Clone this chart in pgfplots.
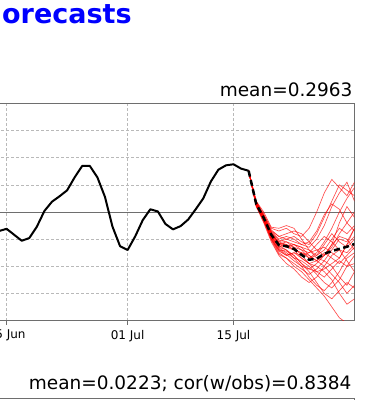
\documentclass[border=0pt]{standalone}
\usepackage{fontspec}
\setmainfont{DejaVu Sans}
\usepackage{pgfplots}
\usepackage{pgfplotstable}
\pgfplotsset{compat=1.18}
\definecolor{framegray}{RGB}{110,110,110}
\definecolor{gridgray}{RGB}{185,185,185}

\pgfplotstableread{
d obs
-1 -0.35
0 -0.31
1 -0.42
2 -0.53
3 -0.48
4 -0.27
5 0.02
6 0.19
7 0.29
8 0.40
9 0.64
10 0.85
11 0.85
12 0.64
13 0.28
14 -0.27
15 -0.63
16 -0.70
17 -0.45
18 -0.15
19 0.05
20 0.01
21 -0.22
22 -0.32
23 -0.26
24 -0.14
25 0.05
26 0.25
27 0.56
28 0.78
29 0.86
30 0.88
31 0.80
32 0.76
}\obs

\pgfplotstableread{
d m1 m2 m3 m4 m5 m6 m7 m8 m9 m10 m11 m12 m13 m14 m15 m16 m17 m18 m19 m20 m21 m22 m23 m24 mean
32 0.76 0.76 0.76 0.76 0.76 0.76 0.76 0.76 0.76 0.76 0.76 0.76 0.76 0.76 0.76 0.76 0.76 0.76 0.76 0.76 0.76 0.76 0.76 0.76 0.76
33 0.20 0.12 0.18 0.10 0.15 0.14 0.20 0.12 0.16 0.13 0.17 0.15 0.19 0.11 0.14 0.16 0.13 0.18 0.12 0.15 0.17 0.14 0.13 0.16 0.15
34 -0.05 -0.15 -0.10 -0.20 -0.08 -0.12 0.00 -0.14 -0.06 -0.18 -0.10 -0.12 -0.04 -0.16 -0.11 -0.09 -0.13 -0.07 -0.15 -0.10 -0.08 -0.13 -0.17 -0.11 -0.11
35 -0.30 -0.50 -0.40 -0.55 -0.35 -0.45 -0.28 -0.48 -0.38 -0.52 -0.42 -0.44 -0.33 -0.47 -0.40 -0.39 -0.45 -0.36 -0.50 -0.41 -0.37 -0.46 -0.50 -0.42 -0.42
36 -0.35 -0.75 -0.55 -0.80 -0.45 -0.65 -0.30 -0.70 -0.58 -0.78 -0.60 -0.62 -0.45 -0.68 -0.55 -0.57 -0.66 -0.50 -0.72 -0.60 -0.52 -0.64 -0.70 -0.58 -0.61
37 -0.30 -0.85 -0.50 -0.95 -0.40 -0.70 -0.25 -0.80 -0.65 -0.85 -0.55 -0.70 -0.50 -0.78 -0.60 -0.62 -0.75 -0.45 -0.80 -0.65 -0.55 -0.62 -0.72 -0.60 -0.63
38 -0.40 -1.00 -0.45 -1.05 -0.35 -0.80 -0.30 -0.75 -0.60 -0.95 -0.65 -0.85 -0.55 -0.90 -0.70 -0.60 -0.85 -0.50 -0.75 -0.70 -0.60 -0.70 -0.80 -0.65 -0.68
39 -0.45 -1.10 -0.55 -1.20 -0.40 -0.95 -0.50 -0.80 -0.70 -1.05 -0.80 -0.90 -0.60 -1.00 -0.75 -0.65 -1.00 -0.60 -0.85 -0.85 -0.65 -0.75 -0.95 -0.70 -0.79
40 -0.30 -1.25 -0.60 -1.30 -0.55 -1.10 -0.70 -0.95 -0.85 -1.15 -0.75 -1.00 -0.55 -1.05 -0.80 -0.70 -1.20 -0.65 -0.95 -0.95 -0.80 -0.85 -1.05 -0.75 -0.88
41 0.00 -1.40 -0.40 -1.20 -0.70 -1.30 -0.85 -1.10 -0.75 -1.05 -0.60 -1.15 -0.35 -0.95 -0.90 -0.80 -1.35 -0.50 -0.90 -1.00 -0.90 -0.80 -1.10 -0.70 -0.86
42 0.35 -1.55 -0.10 -1.00 -0.80 -1.50 -0.90 -1.05 -0.55 -0.90 -0.45 -1.30 -0.05 -0.80 -1.00 -0.70 -1.45 -0.25 -0.75 -1.10 -0.80 -0.60 -1.20 -0.65 -0.77
43 0.60 -1.75 0.20 -0.80 -0.65 -1.60 -0.70 -0.95 -0.30 -1.00 -0.55 -1.40 0.15 -0.60 -1.15 -0.50 -1.30 0.10 -0.85 -1.25 -0.60 -0.40 -1.05 -0.75 -0.72
44 0.45 -1.95 0.50 -0.70 -0.40 -1.45 -0.50 -0.85 0.00 -1.20 -0.70 -1.25 0.05 -0.45 -1.30 -0.30 -1.10 0.35 -0.95 -1.50 -0.20 -0.55 -0.90 -0.85 -0.68
45 0.30 -2.05 0.40 -0.90 -0.20 -1.30 -0.55 -0.60 0.25 -1.35 -0.75 -1.00 -0.20 -0.50 -1.50 -0.40 -0.85 0.55 -0.80 -1.70 0.10 -0.65 -1.00 -0.60 -0.64
46 0.55 -2.10 0.30 -1.10 0.00 -1.40 -0.30 -0.45 0.45 -1.10 -0.60 -0.80 -0.35 -0.70 -1.35 -0.25 -0.75 0.20 -0.65 -1.60 -0.10 -0.50 -0.95 -0.30 -0.59
}\ens

\begin{document}
\begin{tikzpicture}
\useasboundingbox (0,0) rectangle (365pt,-400pt);
\clip (0,0) rectangle (365pt,-400pt);
\begin{axis}[
  at={(-23.625pt,-320.5pt)}, anchor=south west,
  scale only axis, width=378.125pt, height=217pt,
  xmin=-4, xmax=46, ymin=-2, ymax=2,
  xtick={0,16,30}, xticklabels={15 Jun,01 Jul,15 Jul},
  ytick={-1.5,-1,-0.5,0,0.5,1,1.5}, yticklabels={},
  xtick pos=bottom, ytick pos=left,
  tick align=outside, major tick length=4pt,
  tick style={framegray, line width=0.6pt},
  axis line style={framegray, line width=0.8pt},
  grid=major,
  major grid style={gridgray, dash pattern=on 3pt off 2pt, line width=0.6pt},
  ticklabel style={font=\fontsize{12}{14}\selectfont, text=black},
  xticklabel style={yshift=-2pt},
  clip=true,
]
\addplot[framegray, line width=0.8pt, forget plot] coordinates {(-4,0) (46,0)};
\pgfplotsinvokeforeach{1,...,24}{
  \addplot[red, opacity=0.7, line width=0.65pt] table[x=d, y=m#1] {\ens};
}
\addplot[black, line width=2pt, line join=round] table[x=d, y=obs] {\obs};
\addplot[black, line width=2.5pt, dash pattern=on 6pt off 3.5pt] table[x=d, y=mean] {\ens};
\end{axis}
\begin{axis}[
  at={(-23.625pt,-398.3pt)}, anchor=north west,
  scale only axis, width=378.125pt, height=217pt,
  xmin=-4, xmax=46, ymin=-2, ymax=2,
  xtick=\empty, ytick=\empty,
  axis line style={framegray, line width=0.8pt},
]
\addplot[draw=none] coordinates {(0,0)};
\end{axis}
\node[anchor=base west, text=blue, font=\bfseries\fontsize{27}{30}\selectfont, inner sep=0pt] at (2pt,-23pt) {orecasts};
\node[anchor=base east, font=\fontsize{18.5}{21}\selectfont, inner sep=0pt] at (352.7pt,-96.7pt) {mean=0.2963};
\node[anchor=base east, font=\fontsize{18.5}{21}\selectfont, inner sep=0pt] at (351.7pt,-389pt) {mean=0.0223; cor(w/obs)=0.8384};
\end{tikzpicture}
\end{document}
